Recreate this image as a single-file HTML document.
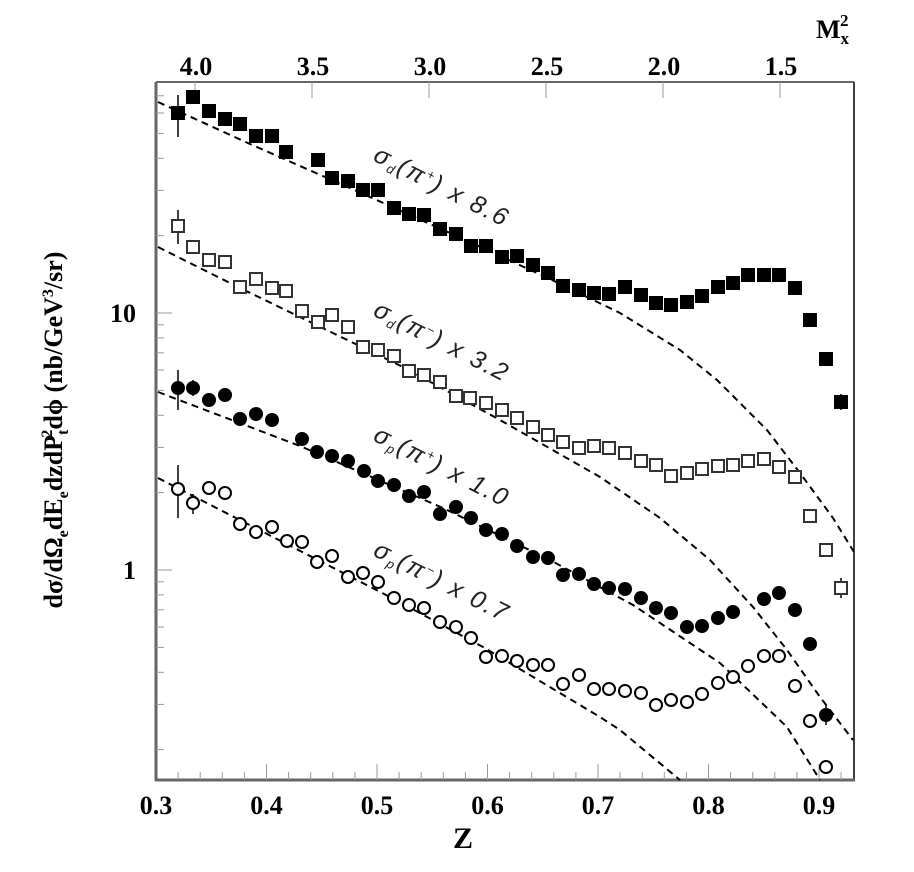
<!DOCTYPE html>
<html><head><meta charset="utf-8"><style>
html,body{margin:0;padding:0;background:#fff;}
svg{display:block;}
.t{font-family:"Liberation Serif",serif;font-weight:bold;font-size:26px;fill:#000;}
.lab{font-family:"Liberation Sans",sans-serif;font-style:italic;font-size:25px;fill:#222;letter-spacing:2px;}
</style></head><body>
<svg width="914" height="872" viewBox="0 0 914 872" xmlns="http://www.w3.org/2000/svg">
<rect width="914" height="872" fill="#fff"/>
<line x1="156" y1="82" x2="854" y2="82" stroke="#333" stroke-width="1.5"/>
<line x1="854" y1="82" x2="854" y2="780" stroke="#000" stroke-width="1.5"/>
<line x1="156" y1="82" x2="156" y2="781" stroke="#666" stroke-width="3"/>
<line x1="155" y1="780" x2="855" y2="780" stroke="#666" stroke-width="3"/>
<g stroke="#999" stroke-width="1">
<line x1="266.5" y1="780" x2="266.5" y2="764"/><line x1="377" y1="780" x2="377" y2="764"/><line x1="487.5" y1="780" x2="487.5" y2="764"/><line x1="598" y1="780" x2="598" y2="764"/><line x1="708.5" y1="780" x2="708.5" y2="764"/><line x1="819" y1="780" x2="819" y2="764"/>
<line x1="178.1" y1="780" x2="178.1" y2="772"/><line x1="200.2" y1="780" x2="200.2" y2="772"/><line x1="222.3" y1="780" x2="222.3" y2="772"/><line x1="244.4" y1="780" x2="244.4" y2="772"/>
<line x1="288.6" y1="780" x2="288.6" y2="772"/><line x1="310.7" y1="780" x2="310.7" y2="772"/><line x1="332.8" y1="780" x2="332.8" y2="772"/><line x1="354.9" y1="780" x2="354.9" y2="772"/>
<line x1="399.1" y1="780" x2="399.1" y2="772"/><line x1="421.2" y1="780" x2="421.2" y2="772"/><line x1="443.3" y1="780" x2="443.3" y2="772"/><line x1="465.4" y1="780" x2="465.4" y2="772"/>
<line x1="509.6" y1="780" x2="509.6" y2="772"/><line x1="531.7" y1="780" x2="531.7" y2="772"/><line x1="553.8" y1="780" x2="553.8" y2="772"/><line x1="575.9" y1="780" x2="575.9" y2="772"/>
<line x1="620.1" y1="780" x2="620.1" y2="772"/><line x1="642.2" y1="780" x2="642.2" y2="772"/><line x1="664.3" y1="780" x2="664.3" y2="772"/><line x1="686.4" y1="780" x2="686.4" y2="772"/>
<line x1="730.6" y1="780" x2="730.6" y2="772"/><line x1="752.7" y1="780" x2="752.7" y2="772"/><line x1="774.8" y1="780" x2="774.8" y2="772"/><line x1="796.9" y1="780" x2="796.9" y2="772"/>
<line x1="841.1" y1="780" x2="841.1" y2="772"/>
<line x1="195" y1="82" x2="195" y2="98"/><line x1="312" y1="82" x2="312" y2="98"/><line x1="429" y1="82" x2="429" y2="98"/><line x1="546" y1="82" x2="546" y2="98"/><line x1="663" y1="82" x2="663" y2="98"/><line x1="780" y1="82" x2="780" y2="98"/>
<line x1="156" y1="313" x2="172" y2="313"/><line x1="156" y1="570" x2="172" y2="570"/>
<line x1="156" y1="749.6" x2="164" y2="749.6"/><line x1="156" y1="704.4" x2="164" y2="704.4"/><line x1="156" y1="672.3" x2="164" y2="672.3"/><line x1="156" y1="647.4" x2="164" y2="647.4"/><line x1="156" y1="627" x2="164" y2="627"/><line x1="156" y1="609.8" x2="164" y2="609.8"/><line x1="156" y1="594.9" x2="164" y2="594.9"/><line x1="156" y1="581.8" x2="164" y2="581.8"/>
<line x1="156" y1="492.6" x2="164" y2="492.6"/><line x1="156" y1="447.4" x2="164" y2="447.4"/><line x1="156" y1="415.3" x2="164" y2="415.3"/><line x1="156" y1="390.4" x2="164" y2="390.4"/><line x1="156" y1="370" x2="164" y2="370"/><line x1="156" y1="352.8" x2="164" y2="352.8"/><line x1="156" y1="337.9" x2="164" y2="337.9"/><line x1="156" y1="324.8" x2="164" y2="324.8"/>
<line x1="156" y1="235.6" x2="164" y2="235.6"/><line x1="156" y1="190.4" x2="164" y2="190.4"/><line x1="156" y1="158.3" x2="164" y2="158.3"/><line x1="156" y1="133.4" x2="164" y2="133.4"/><line x1="156" y1="113" x2="164" y2="113"/><line x1="156" y1="95.8" x2="164" y2="95.8"/>
</g>
<g class="t" text-anchor="middle">
<text x="156" y="814">0.3</text><text x="266.5" y="814">0.4</text><text x="377" y="814">0.5</text><text x="487.5" y="814">0.6</text><text x="598" y="814">0.7</text><text x="708.5" y="814">0.8</text><text x="819" y="814">0.9</text>
<text x="463" y="848" font-size="30">Z</text>
<text x="196" y="75">4.0</text><text x="313" y="75">3.5</text><text x="430" y="75">3.0</text><text x="547" y="75">2.5</text><text x="664" y="75">2.0</text><text x="781" y="75">1.5</text>
</g>
<text class="t" x="816" y="38" font-size="28">M<tspan font-size="17" dy="6">x</tspan><tspan font-size="17" dx="-9" dy="-18">2</tspan></text>
<text class="t" x="136" y="322" text-anchor="end">10</text>
<text class="t" x="136" y="579" text-anchor="end">1</text>
<text class="t" transform="translate(62,430) rotate(-90)" text-anchor="middle" font-size="24">dσ/dΩ<tspan font-size="16" dy="6">e</tspan><tspan dy="-6">dE</tspan><tspan font-size="16" dy="6">e</tspan><tspan dy="-6">dzdP</tspan><tspan font-size="16" dy="6">t</tspan><tspan font-size="16" dx="-8" dy="-16">2</tspan><tspan dy="10">dϕ  (nb/GeV</tspan><tspan font-size="16" dy="-9">3</tspan><tspan dy="9">/sr)</tspan></text>
<g fill="none" stroke="#000" stroke-width="2" stroke-dasharray="7,5">
<polyline points="158,102 250,144 350,188 450,233 550,279 620,313 680,350 717,380 767,430 800,473 833,518 854,552"/>
<polyline points="158,247 238,287 403,367 500,420 600,477 660,518 710,560 753,607 787,650 820,697 853,740"/>
<polyline points="158,392 300,446 443,508 550,560 633,605 720,663 787,727 820,780"/>
<polyline points="158,478 390,597 483,647 600,717 620,730 680,780"/>
</g>
<g stroke="#000" stroke-width="1.5">
<line x1="178" y1="95" x2="178" y2="137"/><line x1="193" y1="90" x2="193" y2="104"/><line x1="841" y1="394" x2="841" y2="410"/>
<line x1="178" y1="210" x2="178" y2="244"/><line x1="193" y1="240" x2="193" y2="254"/><line x1="841" y1="578" x2="841" y2="598"/>
<line x1="178" y1="370" x2="178" y2="410"/><line x1="193" y1="380" x2="193" y2="396"/><line x1="826" y1="705" x2="826" y2="725"/>
<line x1="178" y1="465" x2="178" y2="518"/><line x1="193" y1="494" x2="193" y2="514"/>
</g>
<g fill="#000">
<rect x="171" y="106" width="14" height="14"/><rect x="186" y="90" width="14" height="14"/><rect x="202" y="104" width="14" height="14"/><rect x="218" y="112" width="14" height="14"/><rect x="233" y="117" width="14" height="14"/><rect x="249" y="129" width="14" height="14"/><rect x="265" y="129" width="14" height="14"/><rect x="279" y="145" width="14" height="14"/><rect x="311" y="153" width="14" height="14"/><rect x="325" y="171" width="14" height="14"/><rect x="341" y="174" width="14" height="14"/><rect x="356" y="183" width="14" height="14"/><rect x="371" y="183" width="14" height="14"/><rect x="387" y="201" width="14" height="14"/><rect x="402" y="207" width="14" height="14"/><rect x="417" y="208" width="14" height="14"/><rect x="433" y="222" width="14" height="14"/><rect x="449" y="227" width="14" height="14"/><rect x="464" y="239" width="14" height="14"/><rect x="479" y="239" width="14" height="14"/><rect x="495" y="250" width="14" height="14"/><rect x="510" y="249" width="14" height="14"/><rect x="526" y="258" width="14" height="14"/><rect x="541" y="266" width="14" height="14"/><rect x="556" y="279" width="14" height="14"/><rect x="572" y="283" width="14" height="14"/><rect x="587" y="286" width="14" height="14"/><rect x="602" y="287" width="14" height="14"/><rect x="618" y="280" width="14" height="14"/><rect x="634" y="288" width="14" height="14"/><rect x="649" y="296" width="14" height="14"/><rect x="664" y="298" width="14" height="14"/><rect x="680" y="295" width="14" height="14"/><rect x="695" y="289" width="14" height="14"/><rect x="711" y="280" width="14" height="14"/><rect x="726" y="276" width="14" height="14"/><rect x="741" y="268" width="14" height="14"/><rect x="757" y="268" width="14" height="14"/><rect x="772" y="268" width="14" height="14"/><rect x="788" y="281" width="14" height="14"/><rect x="803" y="313" width="14" height="14"/><rect x="819" y="352" width="14" height="14"/><rect x="834" y="395" width="14" height="14"/>
</g>
<g fill="#fff" stroke="#333" stroke-width="2">
<rect x="172" y="220" width="12" height="12"/><rect x="187" y="241" width="12" height="12"/><rect x="203" y="254" width="12" height="12"/><rect x="219" y="256" width="12" height="12"/><rect x="234" y="281" width="12" height="12"/><rect x="250" y="273" width="12" height="12"/><rect x="266" y="282" width="12" height="12"/><rect x="280" y="285" width="12" height="12"/><rect x="296" y="305" width="12" height="12"/><rect x="312" y="316" width="12" height="12"/><rect x="326" y="309" width="12" height="12"/><rect x="342" y="321" width="12" height="12"/><rect x="357" y="341" width="12" height="12"/><rect x="372" y="344" width="12" height="12"/><rect x="388" y="350" width="12" height="12"/><rect x="403" y="365" width="12" height="12"/><rect x="418" y="369" width="12" height="12"/><rect x="434" y="376" width="12" height="12"/><rect x="450" y="390" width="12" height="12"/><rect x="464" y="392" width="12" height="12"/><rect x="480" y="397" width="12" height="12"/><rect x="496" y="404" width="12" height="12"/><rect x="511" y="412" width="12" height="12"/><rect x="527" y="421" width="12" height="12"/><rect x="542" y="429" width="12" height="12"/><rect x="557" y="436" width="12" height="12"/><rect x="573" y="442" width="12" height="12"/><rect x="588" y="440" width="12" height="12"/><rect x="603" y="442" width="12" height="12"/><rect x="619" y="447" width="12" height="12"/><rect x="635" y="455" width="12" height="12"/><rect x="650" y="459" width="12" height="12"/><rect x="665" y="470" width="12" height="12"/><rect x="681" y="467" width="12" height="12"/><rect x="696" y="463" width="12" height="12"/><rect x="712" y="460" width="12" height="12"/><rect x="727" y="459" width="12" height="12"/><rect x="742" y="455" width="12" height="12"/><rect x="758" y="453" width="12" height="12"/><rect x="773" y="461" width="12" height="12"/><rect x="789" y="471" width="12" height="12"/><rect x="804" y="510" width="12" height="12"/><rect x="820" y="544" width="12" height="12"/><rect x="835" y="582" width="12" height="12"/>
</g>
<g fill="#000">
<circle cx="178" cy="388" r="7"/><circle cx="193" cy="388" r="7"/><circle cx="209" cy="400" r="7"/><circle cx="225" cy="395" r="7"/><circle cx="240" cy="419" r="7"/><circle cx="256" cy="414" r="7"/><circle cx="272" cy="420" r="7"/><circle cx="302" cy="439" r="7"/><circle cx="317" cy="452" r="7"/><circle cx="332" cy="456" r="7"/><circle cx="348" cy="461" r="7"/><circle cx="364" cy="471" r="7"/><circle cx="378" cy="481" r="7"/><circle cx="394" cy="485" r="7"/><circle cx="409" cy="496" r="7"/><circle cx="424" cy="492" r="7"/><circle cx="440" cy="514" r="7"/><circle cx="456" cy="507" r="7"/><circle cx="471" cy="518" r="7"/><circle cx="486" cy="530" r="7"/><circle cx="502" cy="534" r="7"/><circle cx="517" cy="546" r="7"/><circle cx="533" cy="557" r="7"/><circle cx="548" cy="558" r="7"/><circle cx="563" cy="575" r="7"/><circle cx="579" cy="574" r="7"/><circle cx="594" cy="584" r="7"/><circle cx="609" cy="588" r="7"/><circle cx="625" cy="589" r="7"/><circle cx="641" cy="598" r="7"/><circle cx="656" cy="608" r="7"/><circle cx="671" cy="613" r="7"/><circle cx="687" cy="627" r="7"/><circle cx="702" cy="626" r="7"/><circle cx="718" cy="618" r="7"/><circle cx="733" cy="612" r="7"/><circle cx="764" cy="599" r="7"/><circle cx="779" cy="593" r="7"/><circle cx="795" cy="610" r="7"/><circle cx="810" cy="644" r="7"/><circle cx="826" cy="715" r="7"/>
</g>
<g fill="#fff" stroke="#000" stroke-width="2">
<circle cx="178" cy="489" r="6"/><circle cx="193" cy="503" r="6"/><circle cx="209" cy="488" r="6"/><circle cx="225" cy="493" r="6"/><circle cx="240" cy="524" r="6"/><circle cx="256" cy="532" r="6"/><circle cx="272" cy="527" r="6"/><circle cx="287" cy="541" r="6"/><circle cx="302" cy="542" r="6"/><circle cx="317" cy="562" r="6"/><circle cx="332" cy="556" r="6"/><circle cx="348" cy="577" r="6"/><circle cx="363" cy="573" r="6"/><circle cx="378" cy="582" r="6"/><circle cx="394" cy="598" r="6"/><circle cx="409" cy="605" r="6"/><circle cx="424" cy="608" r="6"/><circle cx="440" cy="622" r="6"/><circle cx="456" cy="627" r="6"/><circle cx="471" cy="638" r="6"/><circle cx="486" cy="657" r="6"/><circle cx="502" cy="656" r="6"/><circle cx="517" cy="661" r="6"/><circle cx="533" cy="665" r="6"/><circle cx="548" cy="665" r="6"/><circle cx="563" cy="684" r="6"/><circle cx="579" cy="675" r="6"/><circle cx="594" cy="689" r="6"/><circle cx="609" cy="689" r="6"/><circle cx="625" cy="691" r="6"/><circle cx="641" cy="693" r="6"/><circle cx="656" cy="705" r="6"/><circle cx="671" cy="700" r="6"/><circle cx="687" cy="702" r="6"/><circle cx="702" cy="694" r="6"/><circle cx="718" cy="683" r="6"/><circle cx="733" cy="677" r="6"/><circle cx="748" cy="666" r="6"/><circle cx="764" cy="656" r="6"/><circle cx="779" cy="656" r="6"/><circle cx="795" cy="686" r="6"/><circle cx="810" cy="721" r="6"/><circle cx="826" cy="767" r="6"/>
</g>
<text class="lab" transform="translate(372,160) rotate(27)">σ<tspan font-size="13" dy="4">d</tspan><tspan dy="-4">(π</tspan><tspan font-size="13" dy="-9">+</tspan><tspan dy="9">) x 8.6</tspan></text>
<text class="lab" transform="translate(372,315) rotate(27)">σ<tspan font-size="13" dy="4">d</tspan><tspan dy="-4">(π</tspan><tspan font-size="13" dy="-9">−</tspan><tspan dy="9">) x 3.2</tspan></text>
<text class="lab" transform="translate(372,440) rotate(27)">σ<tspan font-size="13" dy="4">p</tspan><tspan dy="-4">(π</tspan><tspan font-size="13" dy="-9">+</tspan><tspan dy="9">) x 1.0</tspan></text>
<text class="lab" transform="translate(372,555) rotate(27)">σ<tspan font-size="13" dy="4">p</tspan><tspan dy="-4">(π</tspan><tspan font-size="13" dy="-9">−</tspan><tspan dy="9">) x 0.7</tspan></text>
</svg>
</body></html>
